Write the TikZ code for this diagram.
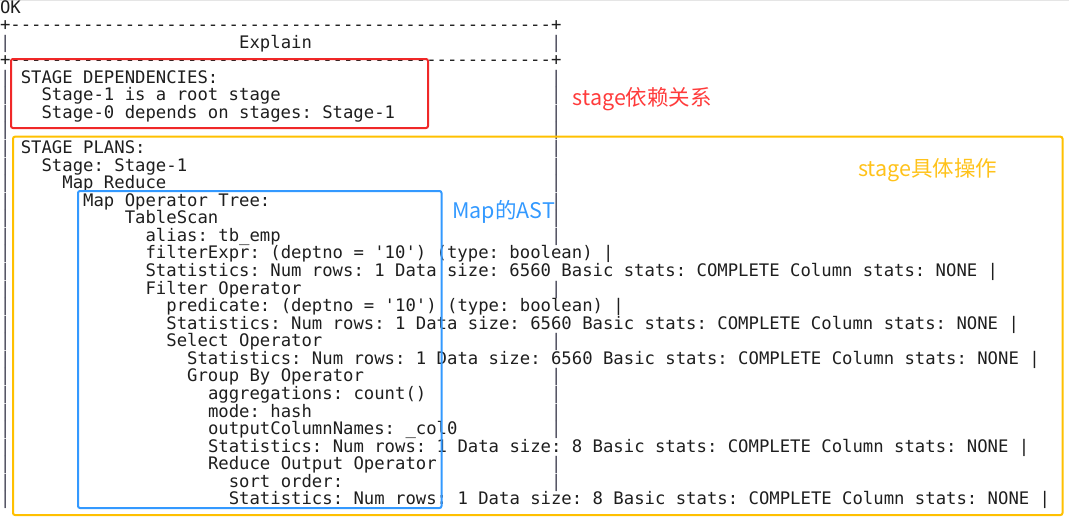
\documentclass[tikz,border=0pt]{standalone}
\usepackage{fontspec}
\newfontfamily\monofnt{DejaVu Sans Mono}[Ligatures=TeXOff]
\newfontfamily\cjkfnt{Noto Sans CJK SC}
\definecolor{termtext}{HTML}{1E1E1E}
\definecolor{bartext}{HTML}{4A4A5A}
\definecolor{boxred}{HTML}{F02828}
\definecolor{boxgold}{HTML}{FFC000}
\definecolor{boxblue}{HTML}{3399FF}
\definecolor{labred}{HTML}{FF3B3B}
\definecolor{labgold}{HTML}{FFC21A}
\definecolor{labblue}{HTML}{3399FF}
\newcommand\termline[4]{\node[term] (#3) at ({#1*10.4},{13+17.57*#2}) {#4};}
\tikzset{
  term/.style={anchor=base west, inner sep=0pt, outer sep=0pt,
    font=\monofnt\fontsize{17.27}{17.57}\selectfont\frenchspacing, text=termtext},
  termbar/.style={term, text=bartext},
  markbox/.style={line width=2pt, rounded corners=2pt},
  marklabel/.style={anchor=west, inner sep=0pt, font=\cjkfnt\fontsize{21.5}{24}\selectfont}
}
\begin{document}
\begin{tikzpicture}[x=1pt,y=-1pt]
\useasboundingbox (0,0) rectangle (1069,523);
\draw[gray!20, line width=1pt] (0,0.5) -- (1069,0.5);
% terminal text
\termline{0}{0}{ok}{OK}
\termline{0}{1}{topdash}{+----------------------------------------------------+}
\termline{23}{2}{explain}{Explain}
\termline{0}{3}{middash}{+----------------------------------------------------+}
\termline{2}{4}{l4}{STAGE DEPENDENCIES:}
\termline{4}{5}{l5}{Stage-1 is a root stage}
\termline{4}{6}{l6}{Stage-0 depends on stages: Stage-1}
\termline{2}{8}{l8}{STAGE PLANS:}
\termline{4}{9}{l9}{Stage: Stage-1}
\termline{6}{10}{l10}{Map Reduce}
\termline{8}{11}{l11}{Map Operator Tree:}
\termline{12}{12}{l12}{TableScan}
\termline{14}{13}{l13}{alias: tb\_emp}
\termline{14}{14}{l14}{filterExpr: (deptno = '10') (type: boolean) |}
\termline{14}{15}{l15}{Statistics: Num rows: 1 Data size: 6560 Basic stats: COMPLETE Column stats: NONE |}
\termline{14}{16}{l16}{Filter Operator}
\termline{16}{17}{l17}{predicate: (deptno = '10') (type: boolean) |}
\termline{16}{18}{l18}{Statistics: Num rows: 1 Data size: 6560 Basic stats: COMPLETE Column stats: NONE |}
\termline{16}{19}{l19}{Select Operator}
\termline{18}{20}{l20}{Statistics: Num rows: 1 Data size: 6560 Basic stats: COMPLETE Column stats: NONE |}
\termline{18}{21}{l21}{Group By Operator}
\termline{20}{22}{l22}{aggregations: count()}
\termline{20}{23}{l23}{mode: hash}
\termline{20}{24}{l24}{outputColumnNames: \_col0}
\termline{20}{25}{l25}{Statistics: Num rows: 1 Data size: 8 Basic stats: COMPLETE Column stats: NONE |}
\termline{20}{26}{l26}{Reduce Output Operator}
\termline{22}{27}{l27}{sort order:}
\termline{22}{28}{l28}{Statistics: Num rows: 1 Data size: 8 Basic stats: COMPLETE Column stats: NONE |}
% table borders
\foreach \i in {2,4,5,...,28}
  \node[termbar] (lb\i) at (0,{13+17.57*\i}) {|};
\foreach \i in {2,4,5,6,7,8,9,10,11,12,13,16,19,21,22,23,24,26,27}
  \node[termbar] (rb\i) at ({53*10.4},{13+17.57*\i}) {|};
% annotation boxes
\draw[markbox, boxred] (11,59) rectangle (428,128);
\draw[markbox, boxgold] (13,136.7) rectangle (1062.5,515);
\draw[markbox, boxblue] (78,191) rectangle (441.5,508);
% annotation labels
\node[marklabel, text=labred] (labdep) at (572.7,99.5) {stage依赖关系};
\node[marklabel, text=labgold] (labplan) at (858,170) {stage具体操作};
\node[marklabel, text=labblue] (labast) at (452,211.7) {Map的AST};
\end{tikzpicture}
\end{document}
